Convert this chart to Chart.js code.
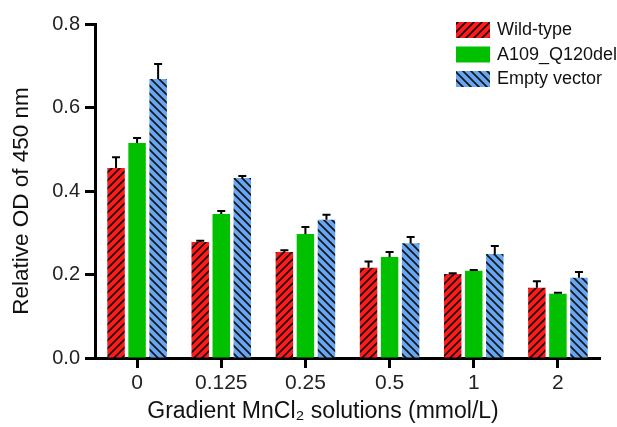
<!DOCTYPE html>
<html>
<head>
<meta charset="utf-8">
<script src="https://cdn.jsdelivr.net/npm/chart.js@4"></script>
<style>
  body { margin: 0; background: #fff; }
  #wrap { width: 617px; height: 427px; }
</style>
</head>
<body>
<div id="wrap"><canvas id="bar-chart"></canvas></div>
<script>
// data
var doses = ["0", "0.125", "0.25", "0.5", "1", "2"];
var wildType = [0.455, 0.278, 0.254, 0.216, 0.201, 0.168];
var wildErr = [0.026, 0.003, 0.004, 0.015, 0.002, 0.016];
var mutant = [0.515, 0.345, 0.297, 0.242, 0.209, 0.154];
var mutantErr = [0.012, 0.007, 0.017, 0.012, 0.002, 0.002];
var emptyVec = [0.668, 0.431, 0.331, 0.275, 0.249, 0.192];
var emptyErr = [0.036, 0.005, 0.012, 0.015, 0.019, 0.014];
var yTicks = [0, 0.2, 0.4, 0.6, 0.8];

var xTitle = 'Gradient MnCl\u2082 solutions (mmol/L)';
var yTitle = 'Relative OD of 450 nm';

var FONT = "'Liberation Sans', Arial, sans-serif";

// hatch fill: dir 1 = "/", dir -1 = "\"
function hatch(bg, dir) {
  var s = 8;
  var c = document.createElement('canvas');
  c.width = s; c.height = s;
  var g = c.getContext('2d');
  g.fillStyle = bg;
  g.fillRect(0, 0, s, s);
  g.strokeStyle = '#111';
  g.lineWidth = 1.6;
  g.beginPath();
  if (dir > 0) {
    g.moveTo(-1, s + 1); g.lineTo(s + 1, -1);
    g.moveTo(-1, 1); g.lineTo(1, -1);
    g.moveTo(s - 1, s + 1); g.lineTo(s + 1, s - 1);
  } else {
    g.moveTo(-1, -1); g.lineTo(s + 1, s + 1);
    g.moveTo(-1, s - 1); g.lineTo(1, s + 1);
    g.moveTo(s - 1, -1); g.lineTo(s + 1, 1);
  }
  g.stroke();
  return g.createPattern(c, 'repeat');
}

var redHatch = hatch('#ff1a1a', 1);
var blueHatch = hatch('#66a6f2', -1);
var errors = [wildErr, mutantErr, emptyErr];

// upper error bars with caps
var errorBars = {
  id: 'errorBars',
  afterDatasetsDraw: function(chart) {
    var ctx = chart.ctx, y = chart.scales.y;
    ctx.save();
    ctx.strokeStyle = '#000';
    ctx.lineWidth = 2;
    chart.data.datasets.forEach(function(ds, i) {
      var meta = chart.getDatasetMeta(i);
      meta.data.forEach(function(bar, j) {
        var top = y.getPixelForValue(ds.data[j] + errors[i][j]);
        ctx.beginPath();
        ctx.moveTo(bar.x, bar.y);
        ctx.lineTo(bar.x, top);
        ctx.moveTo(bar.x - 4, top);
        ctx.lineTo(bar.x + 4, top);
        ctx.stroke();
      });
    });
    ctx.restore();
  }
};

// stacked legend in the top right corner
var boxLegend = {
  id: 'boxLegend',
  afterDraw: function(chart) {
    var ctx = chart.ctx;
    ctx.save();
    ctx.font = '18px ' + FONT;
    ctx.textBaseline = 'middle';
    chart.data.datasets.forEach(function(ds, i) {
      var top = 22 + i * 24.5;
      ctx.fillStyle = ds.backgroundColor;
      ctx.fillRect(456, top, 34, 16);
      ctx.fillStyle = '#111';
      ctx.fillText(ds.label, 497, top + 8.5);
    });
    ctx.restore();
  }
};

// axis titles, placed where the original figure has them (not centred on the plot)
var axisTitles = {
  id: 'axisTitles',
  afterDraw: function(chart) {
    var ctx = chart.ctx;
    ctx.save();
    ctx.fillStyle = '#111';
    ctx.textAlign = 'center';
    ctx.textBaseline = 'middle';
    ctx.font = '23px ' + FONT;
    ctx.fillText(xTitle, 323, 412);
    ctx.translate(22, 201);
    ctx.rotate(-Math.PI / 2);
    ctx.font = '22.5px ' + FONT;
    ctx.fillText(yTitle, 0, 0);
    ctx.restore();
  }
};

new Chart(document.getElementById('bar-chart'), {
  type: 'bar',
  data: {
    labels: doses,
    datasets: [
      { label: 'Wild-type', data: wildType, backgroundColor: redHatch },
      { label: 'A109_Q120del', data: mutant, backgroundColor: '#00c000' },
      { label: 'Empty vector', data: emptyVec, backgroundColor: blueHatch }
    ]
  },
  options: {
    responsive: true,
    maintainAspectRatio: false,
    animation: false,
    categoryPercentage: 0.75,
    barPercentage: 0.83,
    layout: { padding: { top: 24, right: 17, left: 0, bottom: 0 } },
    plugins: {
      legend: { display: false },
      tooltip: { enabled: false }
    },
    scales: {
      x: {
        grid: { display: true, drawOnChartArea: false, offset: false, tickLength: 10, tickWidth: 3, tickColor: '#000' },
        border: { color: '#000', width: 3 },
        ticks: { color: '#222', font: { family: FONT, size: 21 }, padding: 3 },
        afterFit: function(s) { s.height = 69; }
      },
      y: {
        min: 0,
        max: 0.8,
        afterBuildTicks: function(s) { s.ticks = yTicks.map(function(v) { return { value: v }; }); },
        grid: { display: true, drawOnChartArea: false, tickLength: 10, tickWidth: 3, tickColor: '#000' },
        border: { color: '#000', width: 3 },
        ticks: {
          color: '#222',
          font: { family: FONT, size: 20 },
          padding: 5,
          callback: function(v) { return Number(v).toFixed(1); }
        },
        afterFit: function(s) { s.width = 95; }
      }
    }
  },
  plugins: [errorBars, boxLegend, axisTitles]
});
</script>
</body>
</html>
